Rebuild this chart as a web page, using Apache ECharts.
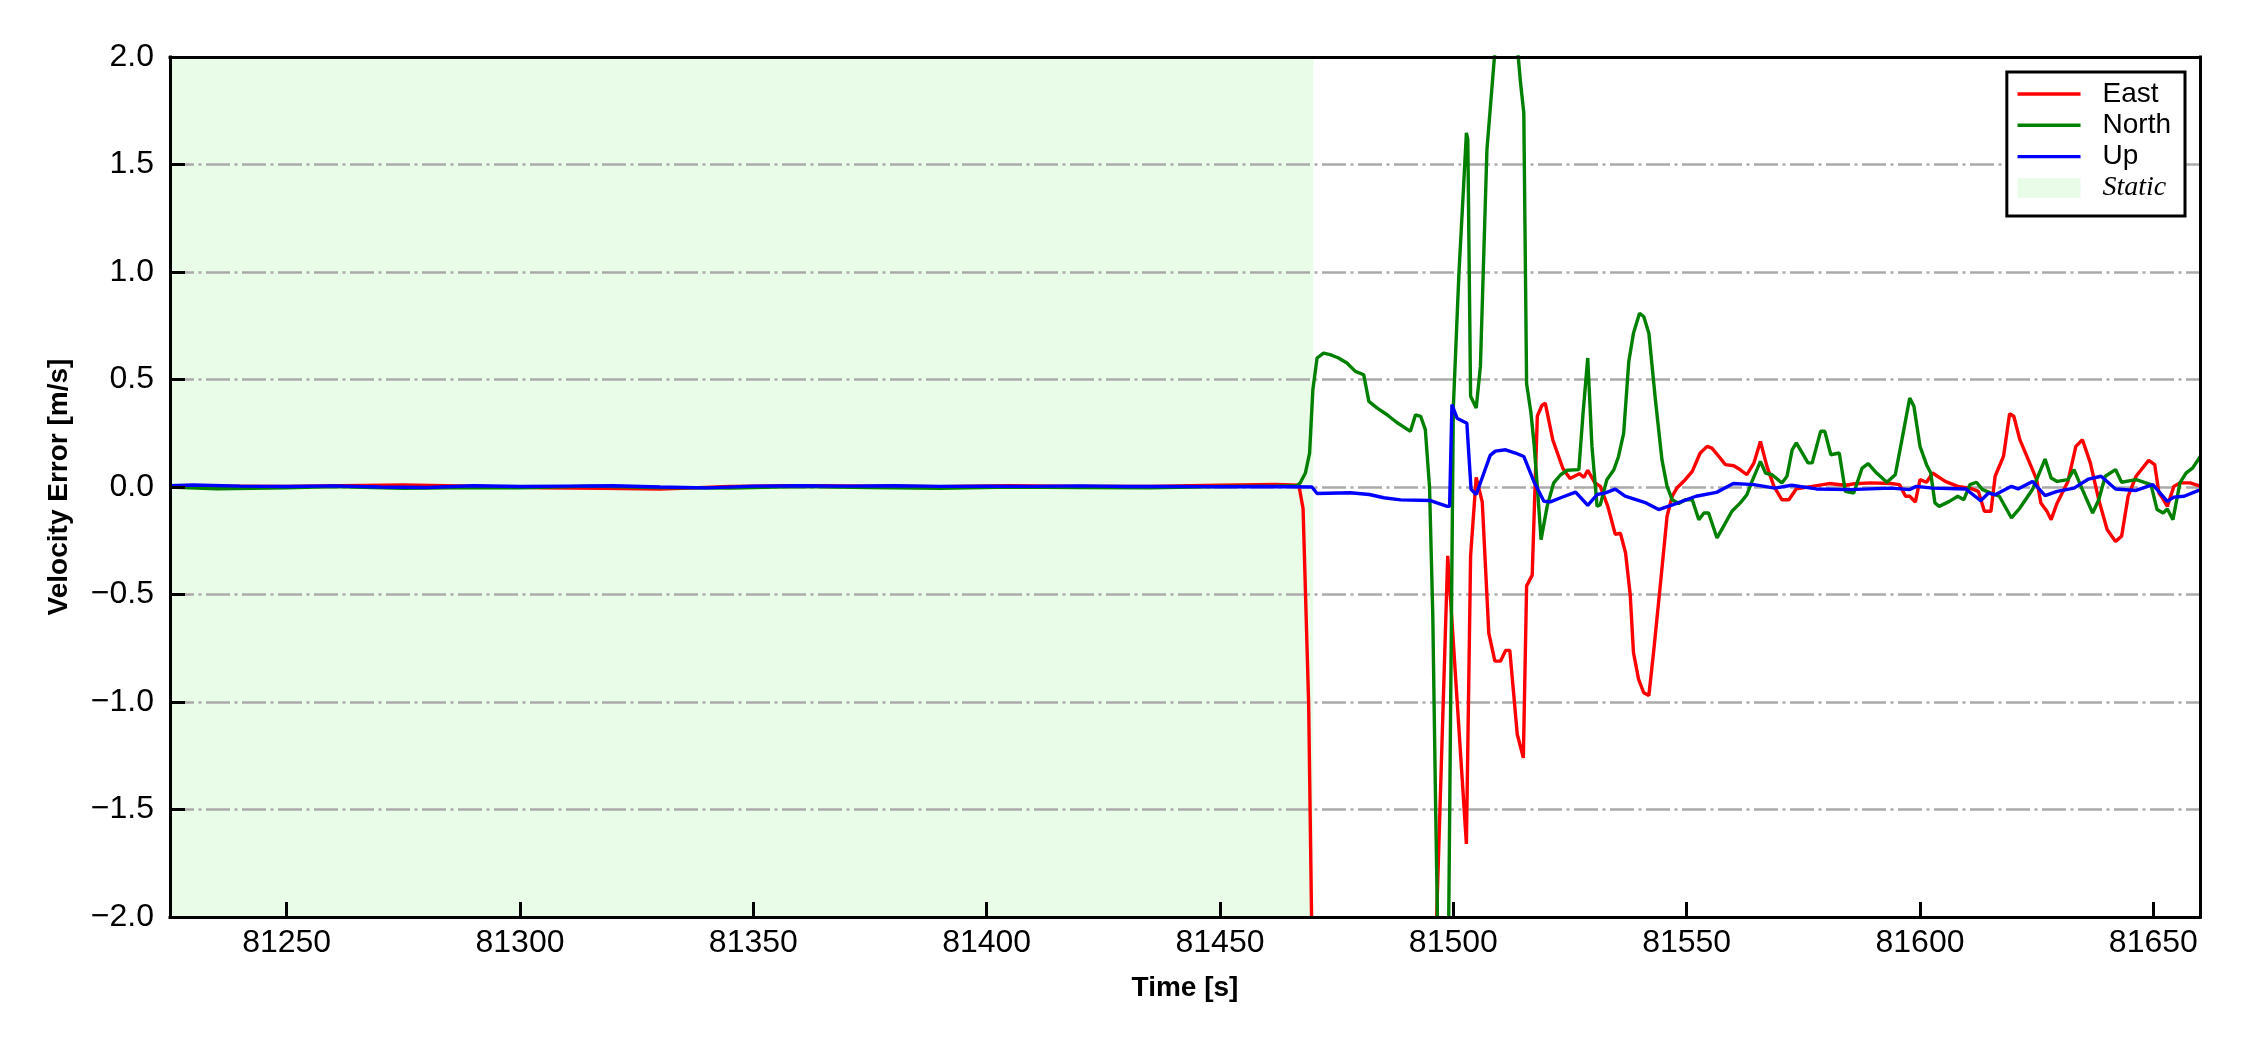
<!DOCTYPE html>
<html>
<head>
<meta charset="utf-8">
<script src="https://cdn.jsdelivr.net/npm/echarts@6/dist/echarts.min.js"></script>
<style>
html,body{margin:0;padding:0;background:#fff;}
#chart{width:2250px;height:1050px;}
</style>
</head>
<body>
<div id="chart"></div>
<script>
// ---- data (time [s], velocity error [m/s]) ----
const xRange = [81225, 81660];
const yRange = [-2, 2];
const xTicks = [81250, 81300, 81350, 81400, 81450, 81500, 81550, 81600, 81650];
const yTicks = [-2.0, -1.5, -1.0, -0.5, 0.0, 0.5, 1.0, 1.5, 2.0];
const staticRange = [81225, 81470];
const seriesNames = ['East', 'North', 'Up', 'Static'];

const eastData = [
  [81225,0.005],[81235,0.004],[81250,0.002],[81262,0.006],[81275,0.01],[81290,0.004],[81305,-0.004],[81318,-0.006],
  [81330,-0.01],[81345,0.002],[81360,0.006],[81375,0.004],[81390,0.001],[81405,0.006],[81420,0.003],[81435,0.002],
  [81450,0.008],[81462,0.012],[81466.9,0.008],
  [81467.8,-0.1],[81469.0,-1.01],[81470.0,-2.6],[81480,-3.5],[81490,-3.5],[81496.0,-2.3],[81498.8,-0.32],
  [81502.8,-1.66],[81503.7,-0.32],[81504.9,0.045],[81506.2,-0.07],[81507.6,-0.68],[81508.9,-0.81],[81510.1,-0.81],
  [81511.2,-0.76],[81512.1,-0.76],[81513.7,-1.15],[81515.0,-1.26],[81515.7,-0.46],[81516.9,-0.41],[81518.0,0.33],
  [81519.0,0.38],[81519.7,0.39],[81521.3,0.22],[81523.5,0.085],[81525.0,0.04],[81527.0,0.062],[81528.0,0.045],
  [81528.8,0.078],[81530.3,0.02],[81531.5,0.003],[81533.1,-0.09],[81534.7,-0.22],[81535.8,-0.215],[81536.9,-0.306],
  [81537.9,-0.50],[81538.6,-0.77],[81539.7,-0.895],[81540.8,-0.957],[81541.9,-0.97],[81542.9,-0.77],[81544.4,-0.446],
  [81545.8,-0.136],[81546.9,-0.043],[81547.9,-0.005],[81549.7,0.034],[81551.2,0.073],[81552.9,0.158],[81554.4,0.189],
  [81555.4,0.181],[81556.9,0.142],[81558.3,0.104],[81560.1,0.099],[81561.5,0.08],[81562.9,0.057],[81564.4,0.111],
  [81565.8,0.212],[81567.2,0.096],[81568.7,0.003],[81570.4,-0.059],[81571.9,-0.059],[81573.5,-0.008],[81576.9,0.003],
  [81580.5,0.016],[81584,0.008],[81586,0.015],[81589.4,0.019],[81593.8,0.016],[81595.6,0.011],[81596.9,-0.043],
  [81597.8,-0.043],[81599.0,-0.07],[81600.0,0.034],[81601.4,0.022],[81602.7,0.065],[81605.4,0.026],[81608.1,0.003],
  [81610.7,-0.005],[81612.5,-0.02],[81613.8,-0.113],[81615.2,-0.113],[81616.1,0.05],[81617.9,0.143],[81619.2,0.341],
  [81620.1,0.329],[81621.4,0.22],[81623.2,0.127],[81625.0,0.034],[81625.9,-0.074],[81627.2,-0.113],[81628.1,-0.152],
  [81629.4,-0.074],[81631.7,0.026],[81633.4,0.189],[81634.8,0.22],[81636.5,0.112],[81638.3,-0.059],[81640.1,-0.198],
  [81641.9,-0.253],[81643.2,-0.229],[81644.6,-0.043],[81646.3,0.05],[81649.0,0.124],[81650.3,0.104],[81651.2,-0.028],
  [81651.7,-0.043],[81653.0,-0.09],[81654.4,0.003],[81655.7,0.019],[81657.9,0.019],[81659.7,0.006],[81660,0.005]
];

const northData = [
  [81225,0.0],[81235,-0.008],[81250,-0.004],[81260,0.002],[81275,-0.006],[81290,-0.002],[81300,-0.004],[81315,0.004],
  [81330,-0.002],[81345,-0.005],[81360,0.002],[81375,-0.002],[81390,-0.006],[81405,0.0],[81420,-0.003],[81435,-0.004],
  [81450,0.002],[81462,0.004],[81466.5,0.006],
  [81467.2,0.02],[81468.3,0.065],[81469.2,0.158],[81469.9,0.453],[81470.8,0.6],[81472.2,0.623],[81473.6,0.616],
  [81475.4,0.6],[81477.2,0.577],[81479.0,0.538],[81480.8,0.522],[81481.9,0.398],[81483.7,0.367],[81485.8,0.336],
  [81487.9,0.3],[81490.8,0.259],[81491.9,0.336],[81493.0,0.329],[81494.0,0.267],[81494.9,0.0],[81495.6,-0.6],
  [81496.2,-1.48],[81497.5,-3.2],[81498.6,-3.0],[81500.0,0.37],[81501.2,0.995],[81502.2,1.4],[81502.8,1.647],
  [81503.1,1.616],[81503.7,0.422],[81504.9,0.367],[81505.8,0.561],[81507.2,1.569],[81510.3,2.4],[81512.3,2.4],
  [81514.4,1.88],[81515.1,1.74],[81515.7,0.48],[81516.6,0.35],[81517.3,0.2],[81518.0,0.0],[81518.8,-0.245],
  [81520.1,-0.09],[81521.5,0.019],[81523.0,0.057],[81524.4,0.078],[81526.9,0.081],[81527.8,0.344],[81528.8,0.6],
  [81529.7,0.19],[81530.8,-0.09],[81531.5,-0.082],[81532.9,0.034],[81534.4,0.08],[81535.4,0.142],[81536.5,0.25],
  [81537.6,0.584],[81538.6,0.715],[81539.9,0.808],[81540.8,0.793],[81541.9,0.715],[81543.3,0.406],[81544.7,0.127],
  [81545.8,0.003],[81546.9,-0.059],[81548.3,-0.077],[81549.7,-0.059],[81551.2,-0.059],[81552.6,-0.152],[81553.7,-0.121],
  [81554.7,-0.121],[81556.5,-0.237],[81557.9,-0.183],[81559.7,-0.113],[81561.5,-0.074],[81562.9,-0.036],[81564.0,0.026],
  [81565.8,0.119],[81566.9,0.065],[81568.3,0.057],[81570.4,0.019],[81571.5,0.05],[81572.6,0.173],[81573.5,0.205],
  [81576.0,0.112],[81576.9,0.112],[81578.7,0.259],[81579.6,0.259],[81580.9,0.15],[81582.7,0.158],[81584.0,-0.02],
  [81585.8,-0.028],[81587.6,0.088],[81588.9,0.109],[81590.7,0.065],[81592.9,0.022],[81594.7,0.057],[81596.0,0.205],
  [81597.8,0.414],[81598.7,0.375],[81600.0,0.189],[81601.4,0.104],[81602.3,0.065],[81603.2,-0.074],[81604.1,-0.09],
  [81606.3,-0.067],[81608.1,-0.043],[81609.4,-0.059],[81610.7,0.011],[81612.1,0.022],[81613.4,-0.012],[81615.2,-0.028],
  [81617.0,-0.043],[81619.6,-0.144],[81621.4,-0.098],[81624.1,-0.012],[81626.8,0.13],[81628.1,0.042],[81629.4,0.026],
  [81631.7,0.034],[81633.0,0.081],[81634.8,-0.012],[81637.0,-0.121],[81638.3,-0.059],[81639.7,0.05],[81641.9,0.081],
  [81643.2,0.022],[81646.3,0.034],[81649.5,0.011],[81650.8,-0.105],[81652.1,-0.121],[81653.0,-0.102],[81654.2,-0.152],
  [81655.7,0.019],[81657.0,0.065],[81658.4,0.088],[81660.1,0.143]
];

const upData = [
  [81225,0.006],[81230,0.009],[81240,0.004],[81250,0.002],[81260,0.005],[81270,0.0],[81280,-0.002],[81290,0.006],
  [81300,0.002],[81310,0.004],[81320,0.006],[81330,0.0],[81340,-0.004],[81350,0.004],[81360,0.006],[81370,0.004],
  [81380,0.006],[81390,0.003],[81400,0.004],[81410,0.003],[81420,0.005],[81430,0.002],[81440,0.003],[81450,0.001],
  [81460,0.002],[81469.7,0.0],
  [81470.8,-0.03],[81477.9,-0.027],[81482,-0.035],[81485.1,-0.05],[81488.7,-0.06],[81495.1,-0.063],[81496.5,-0.074],
  [81498.7,-0.09],[81499.2,-0.09],[81499.7,0.383],[81500.8,0.32],[81502.9,0.296],[81503.8,-0.011],[81504.9,-0.035],
  [81507.9,0.147],[81509.0,0.167],[81511.2,0.173],[81513.3,0.158],[81515.1,0.142],[81517.2,0.028],[81519.4,-0.066],
  [81520.8,-0.069],[81523.0,-0.05],[81526.2,-0.024],[81528.8,-0.085],[81530.8,-0.035],[81532.6,-0.027],[81534.7,-0.01],
  [81536.8,-0.043],[81541.3,-0.074],[81544.0,-0.105],[81547.1,-0.082],[81552.0,-0.043],[81556.4,-0.025],[81560.0,0.016],
  [81564.4,0.011],[81568.9,-0.005],[81572.5,0.008],[81577.8,-0.009],[81584.9,-0.012],[81593.8,-0.005],[81597.8,-0.012],
  [81599.2,0.003],[81602.7,-0.005],[81609.8,-0.009],[81613.0,-0.064],[81614.7,-0.028],[81616.1,-0.036],[81619.6,0.003],
  [81621.0,-0.009],[81624.1,0.026],[81626.8,-0.04],[81629.4,-0.02],[81633.0,-0.005],[81636.1,0.037],[81638.8,0.05],
  [81641.9,-0.009],[81646.3,-0.016],[81649.9,0.011],[81653.0,-0.067],[81654.4,-0.047],[81656.6,-0.043],[81659.7,-0.016],
  [81660,-0.015]
];

// ---- chart ----
const FONT = "'Liberation Sans', Arial, Helvetica, sans-serif";
const LW = 3.4;
const chart = echarts.init(document.getElementById('chart'), null, {renderer: 'canvas'});

function fmtY(v) {
  const s = Math.abs(v).toFixed(1);
  return v < 0 ? '\u2212' + s : s;
}

const frameLine = {show: true, onZero: false, lineStyle: {color: '#000', width: 3, cap: 'square'}};

const option = {
  animation: false,
  backgroundColor: '#fff',
  grid: {left: 170, right: 50, top: 57, bottom: 133},
  legend: {
    orient: 'vertical',
    right: 65,
    top: 72,
    itemWidth: 63,
    itemHeight: 20,
    itemGap: 3.3,
    padding: [8, 14, 14, 9],
    borderColor: '#000',
    borderWidth: 3,
    borderRadius: 0,
    backgroundColor: '#fff',
    lineStyle: {width: LW},
    textStyle: {fontFamily: FONT, fontSize: 28, lineHeight: 28, color: '#000', padding: [0, 0, 0, 17]},
    data: [
      {name: seriesNames[0], itemStyle: {opacity: 0}},
      {name: seriesNames[1], itemStyle: {opacity: 0}},
      {name: seriesNames[2], itemStyle: {opacity: 0}},
      {name: seriesNames[3], icon: 'rect',
       textStyle: {fontFamily: "'Liberation Serif', 'Times New Roman', serif", fontStyle: 'italic', fontSize: 28,
                   padding: [0, 0, 0, 17]}}
    ],
    selectedMode: false
  },
  xAxis: [
    {
      type: 'value', position: 'bottom', min: xRange[0], max: xRange[1], z: 10,
      name: 'Time [s]', nameLocation: 'middle', nameGap: 57,
      nameTextStyle: {fontFamily: FONT, fontSize: 28, fontWeight: 'bold', color: '#000'},
      axisLine: frameLine,
      axisTick: {show: true, inside: true, length: 15, lineStyle: {color: '#000', width: 3}, customValues: xTicks},
      axisLabel: {show: true, margin: 10, fontFamily: FONT, fontSize: 32, color: '#000', customValues: xTicks,
                  formatter: v => String(v)},
      splitLine: {show: false}
    },
    {
      type: 'value', position: 'top', min: xRange[0], max: xRange[1], z: 10,
      axisLine: frameLine, axisTick: {show: false}, axisLabel: {show: false}, splitLine: {show: false}
    }
  ],
  yAxis: [
    {
      type: 'value', position: 'left', min: yRange[0], max: yRange[1], interval: 0.5, z: 10,
      name: 'Velocity Error [m/s]', nameLocation: 'middle', nameGap: 97,
      nameTextStyle: {fontFamily: FONT, fontSize: 28, fontWeight: 'bold', color: '#000'},
      axisLine: frameLine,
      axisTick: {show: true, inside: true, length: 15, lineStyle: {color: '#000', width: 3}, customValues: yTicks},
      axisLabel: {show: true, margin: 16, fontFamily: FONT, fontSize: 32, color: '#000', formatter: fmtY,
                  customValues: yTicks},
      splitLine: {show: false}
    },
    {
      type: 'value', position: 'right', min: yRange[0], max: yRange[1], interval: 0.5, z: 10,
      axisLine: frameLine, axisTick: {show: false}, axisLabel: {show: false}, splitLine: {show: false}
    },
    {
      type: 'value', position: 'left', min: yRange[0], max: yRange[1], interval: 0.5, z: 3,
      axisLine: {show: false}, axisTick: {show: false}, axisLabel: {show: false},
      splitLine: {show: true, showMinLine: false, showMaxLine: false,
                  lineStyle: {color: '#aaaaaa', width: 2.5, type: [24, 4.5, 3, 4.5]}}
    }
  ],
  series: [
    {
      name: seriesNames[3], type: 'line', data: [], z: 1, xAxisIndex: 0, yAxisIndex: 0,
      itemStyle: {color: '#e8fce8'}, lineStyle: {color: '#e8fce8'},
      markArea: {silent: true, z: 1, itemStyle: {color: '#e8fce8'},
                 data: [[{xAxis: staticRange[0]}, {xAxis: staticRange[1]}]]}
    },
    {
      name: seriesNames[0], type: 'line', data: eastData, symbol: 'none', showSymbol: false, z: 5,
      xAxisIndex: 0, yAxisIndex: 0,
      itemStyle: {color: '#ff0000'}, lineStyle: {color: '#ff0000', width: LW}
    },
    {
      name: seriesNames[1], type: 'line', data: northData, symbol: 'none', showSymbol: false, z: 6,
      xAxisIndex: 0, yAxisIndex: 0,
      itemStyle: {color: '#008000'}, lineStyle: {color: '#008000', width: LW}
    },
    {
      name: seriesNames[2], type: 'line', data: upData, symbol: 'none', showSymbol: false, z: 7,
      xAxisIndex: 0, yAxisIndex: 0,
      itemStyle: {color: '#0000ff'}, lineStyle: {color: '#0000ff', width: LW}
    }
  ]
};
chart.setOption(option);
</script>
</body>
</html>
